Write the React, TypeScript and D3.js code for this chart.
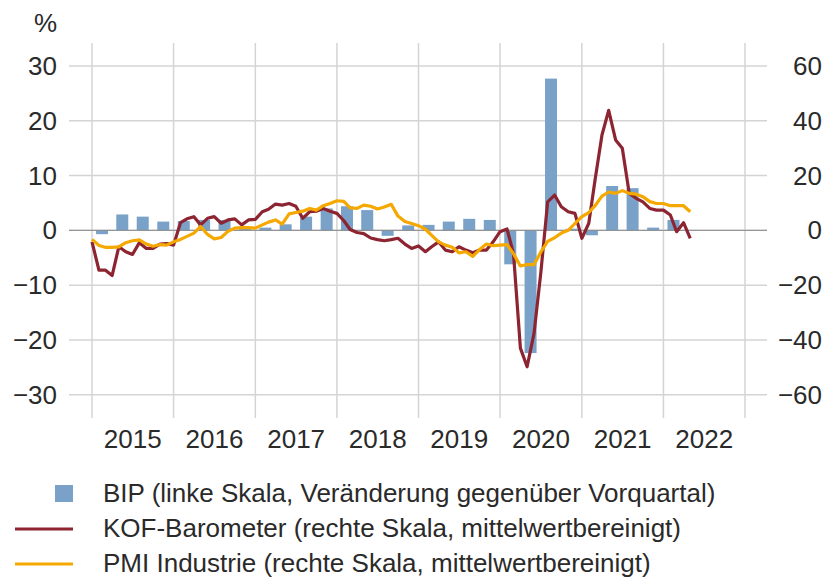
import React from "react";
import * as d3 from "d3";

const years = [2015, 2016, 2017, 2018, 2019, 2020, 2021, 2022];
const leftTicks = [-30, -20, -10, 0, 10, 20, 30];
const rightTicks = [-60, -40, -20, 0, 20, 40, 60];

// BIP quarterly, 2015Q1 .. 2022Q1
const bip = [
  -0.7, 2.9, 2.5, 1.6,
  1.7, 1.9, 1.9, 0.6,
  0.5, 1.1, 2.5, 4.0,
  4.4, 3.7, -1.0, 0.9,
  1.0, 1.6, 2.1, 1.9,
  -6.2, -22.4, 27.7, 0.3,
  -0.9, 8.1, 7.7, 0.5,
  1.9,
];

// KOF monthly, Jan 2015 .. May 2022
const kof = [
  -4.2, -14.5, -14.5, -16.5, -6, -7.8, -8.8, -4.5, -6.6, -6.6, -5, -4.8,
  -5.4, 2.8, 4.2, 5, 2, 4.4, 5, 2.6, 3.8, 4.2, 2, 3.8,
  4, 6.8, 7.7, 9.6, 9.2, 9.8, 8.8, 4.4, 6.8, 7, 8, 7,
  6.2, 3.5, 0.3, -0.8, -1.2, -2.8, -3.4, -3.8, -3.4, -2.9, -5, -6.6,
  -5.7, -7.8, -6, -4.2, -7.2, -7.8, -6, -7.2, -8.2, -7.2, -7.2, -4.2,
  -0.5, 0.5, -8.4, -43, -49.8, -37.6, -15.7, 10.4, 12.9, 8.6, 6.8, 6.2,
  -2.9, 2.6, 18.4, 34.8, 43.8, 33, 30, 13.5, 11.7, 10.4, 8, 7.4,
  7.4, 5.6, -0.5, 2.8, -2.9,
];

// PMI monthly, Jan 2015 .. May 2022
const pmi = [
  -3.3, -5.5, -6.2, -6.2, -6.0, -4.5, -3.8, -3.5, -5, -5.8, -5.2, -5.4,
  -4.2, -3.3, -2.2, -1.0, 1.4, -1.5, -3.1, -2.6, -0.3, 0.8, 1.0, 1.0,
  0.8, 2.0, 3.0, 3.8, 2.3, 6.0, 6.5, 7.0, 8.0, 7.4, 9.0, 9.8,
  10.8, 10.6, 8.2, 8.0, 9.2, 8.8, 7.8, 8.5, 9.5, 5.2, 3.2, 2.5,
  1.7, 0.4, -1.8, -4.2, -5.4, -6.2, -8.2, -7.8, -9.5, -7, -5, -5.6,
  -5.4, -5.2, -8.5, -13, -12.5, -12.5, -8, -4, -2.7, -1, 0, 2.5,
  5, 6.5, 9, 12.5, 14, 13.5, 14.5, 13.5, 13.2, 12.3, 10.5, 9.8,
  9.8, 9, 9, 9.0, 6.8,
];

const legendItems = [
  "BIP (linke Skala, Veränderung gegenüber Vorquartal)",
  "KOF-Barometer (rechte Skala, mittelwertbereinigt)",
  "PMI Industrie (rechte Skala, mittelwertbereinigt)",
];

const BLUE = "#7aa2c8";
const RED = "#8c2431";
const ORANGE = "#f5a800";
const GRID = "#d4d4d4";
const TEXT = "#2a2a2a";
const FONT = "'Liberation Sans', Arial, sans-serif";

const fmt = (v: number) => (v < 0 ? "\u2212" + Math.abs(v) : String(v));

export default function App() {
  const W = 825;
  const H = 580;
  const x = d3
    .scaleTime()
    .domain([new Date(2015, 0, 1), new Date(2023, 0, 1)])
    .range([92, 745]);
  const yL = d3.scaleLinear().domain([-30, 30]).range([394.7, 66]);
  const yR = d3.scaleLinear().domain([-60, 60]).range([394.7, 66]);
  const gridLeft = 69;
  const gridRight = 767;
  const vTop = 43;
  const vBottom = 418;

  const lineKof = d3
    .line<number>()
    .x((_, i) => x(new Date(2015, i, 1)))
    .y((d) => yR(d));
  const linePmi = d3
    .line<number>()
    .x((_, i) => x(new Date(2015, i, 1)))
    .y((d) => yR(d));

  const yearEdges = [...years, 2023];

  return (
    <svg
      width={W}
      height={H}
      style={{ position: "absolute", left: 0, top: 0, background: "#fff" }}
      fontFamily={FONT}
    >
      {leftTicks.map((t) => (
        <line
          key={"h" + t}
          x1={gridLeft}
          x2={gridRight}
          y1={yL(t)}
          y2={yL(t)}
          stroke={GRID}
          strokeWidth={1.5}
        />
      ))}
      {yearEdges.map((yr) => (
        <line
          key={"v" + yr}
          x1={x(new Date(yr, 0, 1))}
          x2={x(new Date(yr, 0, 1))}
          y1={vTop}
          y2={vBottom}
          stroke={GRID}
          strokeWidth={1.5}
        />
      ))}
      {bip.map((v, i) => {
        const yr = 2015 + Math.floor(i / 4);
        const q = i % 4;
        const x0 = x(new Date(yr, q * 3, 1));
        const x1 = x(new Date(yr, q * 3 + 3, 1));
        const cx = (x0 + x1) / 2;
        const bw = 12;
        return (
          <rect
            key={"b" + i}
            x={cx - bw / 2}
            width={bw}
            y={Math.min(yL(v), yL(0))}
            height={Math.abs(yL(v) - yL(0))}
            fill={BLUE}
          />
        );
      })}
      <line
        x1={gridLeft}
        x2={gridRight}
        y1={yL(0)}
        y2={yL(0)}
        stroke="#8a8a8a"
        strokeWidth={1}
      />
      <path
        d={lineKof(kof) || ""}
        fill="none"
        stroke={RED}
        strokeWidth={3.2}
        strokeLinejoin="round"
      />
      <path
        d={linePmi(pmi) || ""}
        fill="none"
        stroke={ORANGE}
        strokeWidth={3.2}
        strokeLinejoin="round"
      />
      {leftTicks.map((t) => (
        <text
          key={"lt" + t}
          x={57}
          y={yL(t)}
          dy="0.35em"
          textAnchor="end"
          fontSize={26}
          fill={TEXT}
        >
          {fmt(t)}
        </text>
      ))}
      <text x={57} y={32} textAnchor="end" fontSize={26} fill={TEXT}>
        %
      </text>
      {rightTicks.map((t) => (
        <text
          key={"rt" + t}
          x={822}
          y={yR(t)}
          dy="0.35em"
          textAnchor="end"
          fontSize={26}
          fill={TEXT}
        >
          {fmt(t)}
        </text>
      ))}
      {years.map((yr) => (
        <text
          key={"y" + yr}
          x={(x(new Date(yr, 0, 1)) + x(new Date(yr + 1, 0, 1))) / 2}
          y={448}
          textAnchor="middle"
          fontSize={26}
          fill={TEXT}
        >
          {yr}
        </text>
      ))}
      <rect x={55} y={485} width={18} height={17} fill={BLUE} />
      <line x1={15} x2={73} y1={529} y2={529} stroke={RED} strokeWidth={3} />
      <line x1={15} x2={73} y1={564} y2={564} stroke={ORANGE} strokeWidth={3} />
      {legendItems.map((t, i) => (
        <text
          key={"lg" + i}
          x={103}
          y={502 + i * 35}
          fontSize={26}
          fill={TEXT}
        >
          {t}
        </text>
      ))}
    </svg>
  );
}
